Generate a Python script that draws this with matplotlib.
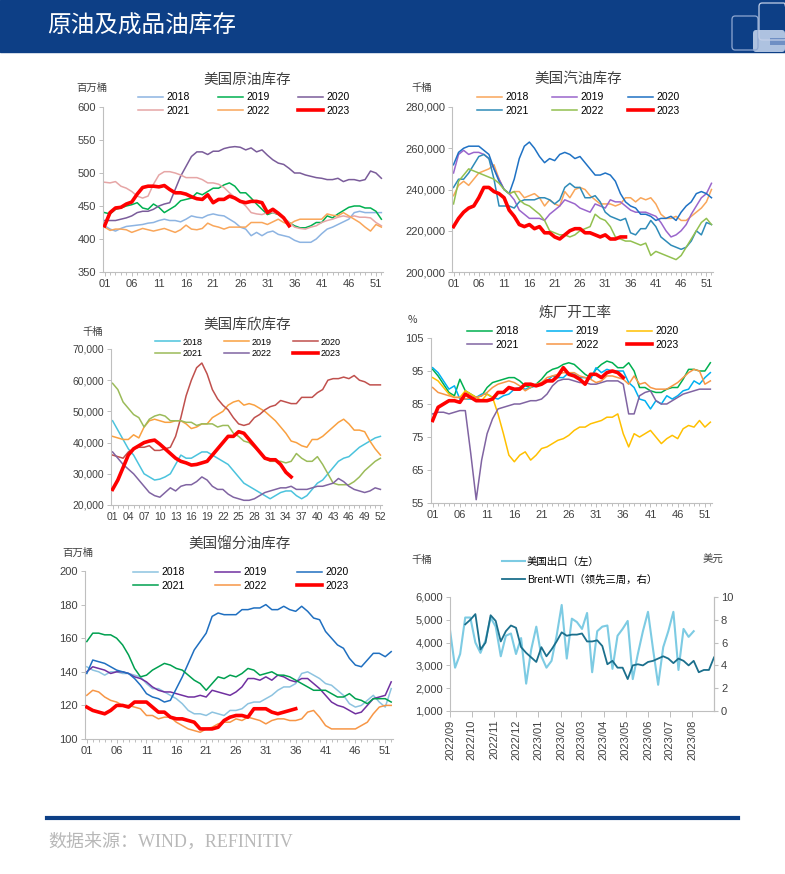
import numpy as np
import pandas as pd
import matplotlib
matplotlib.use("Agg")
import matplotlib.pyplot as plt
import matplotlib.dates as mdates
from matplotlib.ticker import FuncFormatter
from matplotlib.patches import Rectangle, FancyBboxPatch

plt.rcParams['font.family'] = ['Liberation Sans', 'Noto Sans CJK SC', 'DejaVu Sans']

W, H = 785, 874
NAVY = '#0D3F86'
TXT = '#404040'
years = ['2018', '2019', '2020', '2021', '2022', '2023']

# ---- 美国原油库存 (百万桶) ----
crude_2018 = [420, 415, 412, 416, 419, 420, 421, 422, 424, 425, 428, 430, 428, 428, 426, 430, 435, 433, 432, 436,
              438, 436, 435, 430, 425, 418, 415, 405, 410, 405, 410, 412, 407, 405, 403, 398, 395, 395, 395, 400,
              408, 415, 418, 422, 426, 430, 440, 442, 440, 440, 440, 440]
crude_2019 = [440, 438, 445, 447, 450, 452, 455, 447, 445, 453, 448, 440, 445, 450, 458, 460, 462, 470, 467, 472,
              477, 477, 482, 485, 480, 470, 470, 462, 453, 445, 437, 440, 437, 432, 425, 420, 417, 417, 420, 425,
              425, 435, 432, 438, 443, 448, 450, 450, 447, 447, 442, 430]
crude_2020 = [428, 428, 428, 430, 432, 435, 440, 442, 442, 445, 450, 453, 455, 475, 495, 510, 525, 532, 532, 528,
              533, 533, 537, 539, 540, 539, 535, 538, 532, 535, 527, 520, 515, 513, 507, 500, 500, 497, 495, 493,
              492, 490, 490, 492, 487, 490, 490, 488, 490, 503, 500, 492]
crude_2021 = [486, 485, 487, 480, 477, 472, 465, 462, 465, 483, 497, 502, 502, 500, 497, 493, 493, 493, 490, 485,
              485, 483, 478, 470, 463, 457, 450, 440, 438, 437, 440, 440, 438, 432, 425, 418, 416, 415, 418, 420,
              425, 428, 430, 433, 435, 433, 435, 433, 433, 432, 425, 420]
crude_2022 = [418, 413, 415, 415, 414, 410, 413, 416, 414, 412, 414, 416, 413, 410, 414, 421, 415, 414, 416, 424,
              420, 418, 415, 418, 418, 418, 418, 425, 425, 425, 422, 426, 430, 425, 422, 427, 430, 430, 430, 430,
              430, 438, 436, 435, 440, 435, 430, 425, 418, 412, 422, 418]
crude_2023 = [420, 440, 447, 448, 453, 456, 468, 478, 480, 480, 479, 481, 475, 470, 470, 468, 464, 461, 460, 467,
              455, 460, 460, 465, 462, 457, 455, 457, 457, 455, 440, 445, 439, 432, 420]

# ---- 美国汽油库存 (千桶) ----
gas_2018 = [237, 242, 244, 242, 245, 248, 249, 250, 252, 245, 240, 238, 239, 239, 236, 237, 238, 236, 232, 235,
            233, 232, 239, 236, 240, 241, 240, 237, 235, 233, 233, 233, 232, 233, 236, 236, 234, 236, 235, 236,
            233, 228, 226, 226, 227, 225, 225, 227, 229, 231, 234, 240]
gas_2019 = [248, 257, 259, 257, 258, 258, 257, 255, 250, 245, 240, 238, 235, 230, 228, 226, 226, 226, 225, 228,
            230, 232, 235, 234, 233, 231, 230, 229, 233, 232, 231, 235, 234, 234, 232, 230, 229, 229, 229, 228,
            227, 224, 220, 217, 218, 220, 223, 228, 232, 236, 238, 243]
gas_2020 = [252, 258, 260, 261, 261, 261, 259, 257, 250, 244, 240, 238, 245, 255, 261, 263, 260, 256, 253, 255,
            254, 257, 258, 257, 255, 256, 253, 250, 247, 247, 248, 247, 244, 238, 234, 232, 231, 228, 228, 227,
            225, 226, 226, 227, 225, 229, 232, 234, 238, 239, 238, 236]
gas_2021 = [241, 245, 245, 248, 252, 256, 257, 255, 245, 232, 232, 232, 231, 234, 235, 235, 235, 236, 236, 235,
            233, 235, 241, 243, 241, 241, 236, 236, 237, 234, 229, 227, 226, 225, 226, 219, 218, 221, 221, 225,
            222, 217, 215, 213, 212, 211, 212, 215, 220, 218, 224, 223]
gas_2022 = [233, 244, 247, 250, 249, 248, 247, 246, 245, 243, 240, 238, 239, 235, 233, 232, 230, 228, 225, 220,
            219, 218, 218, 217, 218, 220, 221, 222, 228, 226, 225, 222, 217, 216, 215, 215, 214, 213, 214, 208,
            210, 209, 208, 207, 206, 208, 212, 216, 220, 224, 226, 223]
gas_2023 = [222, 226, 229, 231, 232, 236, 241, 241, 239, 238, 236, 230, 227, 223, 222, 223, 221, 222, 219, 219,
            217, 216, 218, 220, 221, 221, 219, 219, 218, 217, 218, 216, 216, 217, 217]

# ---- 美国库欣库存 (千桶) ----
cush_2018 = [47, 44, 41, 38, 36, 33, 30, 29, 28, 28.3, 29, 30, 33, 36, 35, 35, 36, 37, 37, 36,
             35, 34, 33, 31, 29, 27, 26, 25, 24, 23, 22, 23, 24, 24.5, 24.5, 23, 22, 23, 25, 27,
             28, 30, 32, 34, 35, 35.5, 37, 38.5, 39.5, 40.5, 41.5, 42]
cush_2019 = [42, 41.5, 41, 41, 42.5, 41.5, 45, 47, 47.5, 47, 46.5, 46.5, 47, 47, 46, 44.5, 45, 46, 46, 48,
             49, 50, 52, 53, 53.5, 52, 52.5, 52, 51, 50, 48.5, 47, 45, 43, 40.5, 40, 39, 38.5, 41, 41,
             42, 43.5, 45, 46.5, 47.5, 46, 44, 44, 43.5, 40.5, 38, 36]
cush_2020 = [36, 35.5, 35, 37, 38, 38.5, 38.5, 39, 37.5, 37.5, 38, 38.5, 42, 48, 55, 60, 64, 65.5, 62, 57,
             54, 52, 50.5, 48, 46, 45.5, 46, 48, 49, 50.5, 51.5, 52, 53.5, 53, 52.5, 52.5, 54.5, 54.5, 54.5, 56,
             57, 60, 60.5, 60.5, 61, 60.5, 61.5, 60, 59.5, 58.5, 58.5, 58.5]
cush_2021 = [59, 57, 53, 51, 49, 48, 45, 47.5, 48.5, 49, 48.5, 47, 47, 47, 46.5, 46.5, 45.5, 46, 46, 46,
             45, 45.5, 45.5, 43, 42, 40.5, 40, 38.5, 37, 35, 34, 34, 34, 33.5, 34, 36.5, 35, 34, 34, 35.5,
             33, 30, 27, 26.5, 26.5, 26.5, 27.5, 29, 31, 32.5, 34, 35]
cush_2022 = [37, 35, 33, 31.5, 30, 28, 26, 24, 23, 22.5, 24, 25.5, 24.5, 26, 26.5, 26.5, 27.5, 29, 28, 26,
             25, 25, 23.5, 22.5, 22, 21.5, 21.5, 22, 23, 24, 24.5, 25, 25.5, 25.5, 26, 25, 25, 25, 25.5, 26,
             26, 26.5, 27, 28.5, 27.5, 26, 25, 24.5, 24, 24.5, 25.5, 25]
cush_2023 = [25, 28, 32, 36, 38, 39, 40, 40.5, 40.8, 39.5, 38, 36.5, 35, 34, 33.5, 32.8, 33, 33.5, 34, 36,
             38, 40, 42, 42, 43.5, 43, 41, 39, 37, 35, 34.5, 34.5, 33, 30.5, 29]

# ---- 炼厂开工率 (%) ----
util_2018 = [95.5, 93.5, 91, 88.5, 87.5, 92.5, 89, 88, 87, 87.5, 90, 91.5, 92, 92.5, 93, 93, 92, 90.5, 90, 91,
             92.5, 94.5, 95.5, 96, 97, 97.5, 97, 95.5, 94, 93, 95.5, 97, 98, 97.5, 96, 96, 97.5, 95, 90, 90,
             89, 88.5, 88.5, 89.5, 90, 90, 92.5, 95.5, 95.5, 95, 95, 97.5]
util_2019 = [96, 94.5, 92, 89.5, 90.5, 86.5, 86.5, 86.5, 87, 88, 88, 87, 86.5, 87.5, 88, 89.5, 90, 89.5, 90, 90.5,
             91, 92, 93.5, 93, 93, 94.5, 94, 93, 93, 92.5, 96, 94.5, 95.5, 95, 95, 95, 91.5, 90, 86.5, 86,
             83.5, 86, 85, 87.5, 86.5, 87.5, 89, 89.5, 92, 91, 93, 94.5]
util_2020 = [93, 92, 90, 88, 87, 87, 89, 88, 87, 86, 88, 87, 82, 76, 69.5, 67.5, 69.5, 70.5, 68, 69.5,
             71.5, 72, 73, 74, 74.5, 75.5, 77, 78, 78, 79, 79.5, 80, 81, 81, 82, 76, 72, 76, 75, 76,
             77, 75, 73, 74.5, 75.5, 74.5, 77.5, 78.5, 78, 80, 78, 79.5]
util_2021 = [82, 82.5, 82.5, 82, 82.5, 83, 83, 70, 56, 68, 76, 80.5, 83.5, 84, 84.5, 85, 85, 85.5, 86, 86,
             86.5, 88, 90.5, 92, 92.5, 92.5, 92, 91.5, 91.5, 91, 91, 91.5, 92, 92, 92, 91, 82, 82, 87.5, 88.5,
             89, 86, 85, 85, 86, 87, 88, 88.5, 89, 89.5, 89.5, 89.5]
util_2022 = [90, 88.5, 88, 87.5, 87, 87, 86.5, 87, 87, 87.5, 88.5, 90, 91, 91.5, 92, 91.5, 90.5, 89, 90, 91,
             91.5, 93, 93.5, 94, 94.5, 94.5, 94.5, 93.5, 93, 92.5, 91.5, 92, 93.5, 93.5, 93, 92.5, 91, 93.5, 91, 91.5,
             90, 89.5, 89.5, 89.5, 90.5, 91.5, 93, 94.5, 95.5, 95, 91, 92]
util_2023 = [80, 84, 85, 86, 86, 85.5, 88, 87, 86, 86, 86, 86.5, 88.5, 88.5, 90, 89.5, 89.5, 91, 91, 90.5,
             91, 92, 92, 93.5, 96, 94, 93.5, 92.5, 91, 94, 94, 93, 94.5, 95, 94.5, 93]

# ---- 美国馏分油库存 (百万桶) ----
dist_2018 = [143, 141, 140, 138, 140, 140, 139, 139, 138, 137, 133, 130, 130, 128, 126, 124, 121, 117, 115, 115,
             114, 116, 115, 114, 117, 117, 118, 121, 122, 122, 124, 126, 129, 131, 131, 133, 139, 140, 138, 136,
             133, 132, 129, 126, 121, 119, 120, 123, 126, 122, 119, 130]
dist_2019 = [140, 143, 142, 141, 139, 140, 140, 139, 137, 136, 134, 131, 129, 128, 128, 127, 126, 125, 125, 126,
             125, 129, 128, 127, 126, 128, 131, 136, 136, 135, 137, 135, 138, 137, 135, 134, 136, 136, 133, 130,
             126, 122, 120, 119, 117, 115, 116, 120, 124, 125, 126, 134]
dist_2020 = [139, 147, 146, 145, 143, 141, 140, 139, 136, 132, 127, 125, 124, 122, 123, 130, 137, 145, 153, 158,
             163, 173, 175, 174, 174, 174, 177, 177, 178, 178, 180, 177, 177, 179, 177, 176, 179, 176, 172, 171,
             164, 160, 156, 154, 148, 144, 143, 147, 151, 151, 149, 152]
dist_2021 = [158, 163, 163, 162, 162, 160, 156, 150, 142, 137, 138, 141, 143, 145, 144, 142, 141, 138, 135, 133,
             129, 133, 137, 136, 138, 137, 139, 142, 141, 138, 139, 140, 138, 138, 137, 135, 133, 131, 129, 129,
             129, 127, 125, 125, 127, 124, 123, 121, 124, 124, 124, 122]
dist_2022 = [126, 129, 128, 125, 123, 122, 120, 120, 119, 118, 114, 114, 112, 113, 113, 110, 108, 106, 105, 104,
             106, 107, 109, 110, 110, 112, 111, 113, 112, 111, 109, 111, 112, 112, 111, 111, 112, 116, 117, 113,
             108, 106, 106, 106, 106, 106, 108, 110, 115, 119, 120, 120]
dist_2023 = [119, 117, 116, 115, 117, 120, 120, 119, 122, 122, 122, 119, 116, 116, 113, 112, 112, 111, 110, 106,
             106, 106, 107, 111, 113, 114, 114, 113, 118, 118, 118, 116, 115, 116, 117, 118]

# ---- 美国出口 (千桶, 左) & Brent-WTI (美元, 右, 领先三周) ----
exports = [4550, 2900, 3500, 5100, 5100, 4000, 3550, 4100, 5100, 4700, 3400, 4300, 4400, 3500, 4200, 2200, 3700,
           4700, 3400, 2900, 3200, 4300, 5650, 3300, 5050, 4900, 4600, 5300, 2700, 4500, 4700, 4750, 2850, 4300,
           4600, 4950, 2400, 3500, 4500, 5350, 3700, 2150, 3800, 4500, 5350, 2800, 4600, 4250, 4500]
spread = [7.6, 8.0, 8.5, 5.4, 6.0, 8.4, 7.9, 6.1, 7.0, 7.5, 7.3, 5.6, 5.1, 4.7, 4.3, 5.6, 4.8, 5.4, 6.1, 6.9,
          6.6, 6.7, 6.7, 6.8, 6.1, 6.1, 6.2, 5.7, 4.1, 4.4, 3.8, 3.8, 2.8, 4.0, 4.1, 4.0, 4.3, 4.4, 4.6, 4.8,
          4.6, 4.2, 4.6, 4.4, 4.0, 4.4, 3.4, 3.6, 3.6, 4.7]
exports_start = '2022-09-01'
spread_start = '2022-09-22'


def fx(px):
    return px / W


def fy(py):
    return 1 - py / H


def add_axes(fig, left, top, right, bottom):
    return fig.add_axes([fx(left), fy(bottom), (right - left) / W, (bottom - top) / H])


def style_axes(ax, labelsize=8):
    for s in ['top', 'right']:
        ax.spines[s].set_visible(False)
    for s in ['left', 'bottom']:
        ax.spines[s].set_color('#BFBFBF')
        ax.spines[s].set_linewidth(0.8)
    ax.tick_params(which='both', direction='out', color='#BFBFBF', labelcolor=TXT,
                   labelsize=labelsize, length=3, width=0.7, pad=2)
    ax.tick_params(which='minor', length=2)


def year_panel(fig, box, series, colors, ylim, ystep, xt, title, title_xy, unit, unit_xy,
               leg_xy, comma=False, labelsize=8, legsize=7.5, colspace=2.75, handlelen=2.4):
    ax = add_axes(fig, *box)
    style_axes(ax, labelsize)
    handles = []
    for yr, vals, c in zip(years, series, colors):
        w = np.arange(1, len(vals) + 1)
        lw = 2.6 if yr == '2023' else 1.1
        h, = ax.plot(w, vals, color=c, lw=lw, label=yr, zorder=3 if yr == '2023' else 2)
        handles.append(h)
    ax.set_xlim(0.7, 52.3)
    ax.set_ylim(*ylim)
    ax.set_yticks(np.arange(ylim[0], ylim[1] + ystep / 2, ystep))
    if comma:
        ax.yaxis.set_major_formatter(FuncFormatter(lambda v, p: f'{int(v * 1000):,}'))
    ax.set_xticks(xt)
    ax.set_xticklabels([f'{t:02d}' for t in xt])
    ax.set_xticks(np.arange(1, 53), minor=True)
    order = [0, 3, 1, 4, 2, 5]
    ax.legend([handles[i] for i in order], [years[i] for i in order], ncol=3, frameon=False,
              loc='center left', bbox_to_anchor=(fx(leg_xy[0]), fy(leg_xy[1])), bbox_transform=fig.transFigure,
              fontsize=legsize, handlelength=handlelen, columnspacing=colspace, handletextpad=0.3,
              labelspacing=0.3, borderpad=0, borderaxespad=0)
    fig.text(fx(title_xy[0]), fy(title_xy[1]), title, ha='center', va='center',
             fontsize=10.5, color=TXT, family=['Noto Sans CJK SC'])
    fig.text(fx(unit_xy[0]), fy(unit_xy[1]), unit, ha='center', va='center',
             fontsize=7.5, color=TXT, family=['Noto Sans CJK SC', 'DejaVu Sans'])
    return ax


fig = plt.figure(figsize=(W / 100, H / 100), dpi=100)
fig.patch.set_facecolor('white')

# header band with logo
fig.patches.append(Rectangle((0, fy(52)), 1, 52 / H, transform=fig.transFigure, color=NAVY, zorder=0))
fig.text(fx(47), fy(25), '原油及成品油库存', color='white', fontsize=17, va='center', ha='left',
         family=['Noto Sans CJK SC'])
fig.patches.append(FancyBboxPatch((fx(753), fy(52)), 32 / W, 22 / H, transform=fig.transFigure,
                                  boxstyle='round,pad=0,rounding_size=0.004', color='#AEC2E0', lw=0))
fig.patches.append(Rectangle((fx(770), fy(45)), 15 / W, 7 / H, transform=fig.transFigure,
                             color='#6F8FC4', lw=0))
fig.patches.append(FancyBboxPatch((fx(732), fy(50)), 26 / W, 34 / H, transform=fig.transFigure,
                                  boxstyle='round,pad=0,rounding_size=0.004', fill=False, ec='#8FA8D2', lw=0.9))
fig.patches.append(FancyBboxPatch((fx(759), fy(40)), 28 / W, 37 / H, transform=fig.transFigure,
                                  boxstyle='round,pad=0,rounding_size=0.004', fill=False, ec='#C3D0E8', lw=0.9))

year_panel(fig, (103, 107, 383, 272),
           [crude_2018, crude_2019, crude_2020, crude_2021, crude_2022, crude_2023],
           ['#8DB4E2', '#00B050', '#7A5C9A', '#E6A6A6', '#F9A65A', '#FF0000'],
           (350, 600), 50, list(range(1, 52, 5)), '美国原油库存', (247, 80), '百万桶', (92, 88), (138, 104))

year_panel(fig, (452, 107, 713, 272),
           [gas_2018, gas_2019, gas_2020, gas_2021, gas_2022, gas_2023],
           ['#F9A65A', '#9A66CC', '#1F72C4', '#2E8BB8', '#92C050', '#FF0000'],
           (200, 280), 20, list(range(1, 52, 5)), '美国汽油库存', (578, 79), '千桶', (422, 88), (477, 104),
           comma=True, colspace=2.3)

year_panel(fig, (111, 349, 382, 505),
           [cush_2018, cush_2019, cush_2020, cush_2021, cush_2022, cush_2023],
           ['#4BC3DD', '#F9A040', '#C0504D', '#9BBB59', '#8064A2', '#FF0000'],
           (20, 70), 10, list(range(1, 53, 3)), '美国库欣库存', (247, 325), '千桶', (93, 332), (155, 348),
           comma=True, labelsize=7.5, legsize=6.5, colspace=2.3, handlelen=2.8)

year_panel(fig, (431, 338, 712, 503),
           [util_2018, util_2019, util_2020, util_2021, util_2022, util_2023],
           ['#00B050', '#00B0F0', '#FFC000', '#8064A2', '#F79646', '#FF0000'],
           (55, 105), 10, list(range(1, 52, 5)), '炼厂开工率', (575, 313), '%', (412, 320), (467, 338))

year_panel(fig, (85, 571, 393, 739),
           [dist_2018, dist_2019, dist_2020, dist_2021, dist_2022, dist_2023],
           ['#8DC3E0', '#7030A0', '#1F6FC0', '#00A050', '#F79646', '#FF0000'],
           (100, 200), 20, list(range(1, 52, 5)), '美国馏分油库存', (240, 544), '百万桶', (78, 553), (133, 579),
           colspace=2.95)

# exports vs Brent-WTI
ax6 = add_axes(fig, 450, 597, 714, 711)
style_axes(ax6)
ax6.spines['right'].set_visible(True)
ax6.spines['right'].set_color('#BFBFBF')
exp_dates = pd.date_range(exports_start, periods=len(exports), freq='7D')
spr_dates = pd.date_range(spread_start, periods=len(spread), freq='7D')
l1, = ax6.plot(exp_dates, exports, color='#7DCBE3', lw=1.5)
ax6.set_ylim(1000, 6000)
ax6.set_yticks(np.arange(1000, 6001, 1000))
ax6.yaxis.set_major_formatter(FuncFormatter(lambda v, p: f'{int(v):,}'))
ax6r = ax6.twinx()
for s in ['top', 'left']:
    ax6r.spines[s].set_visible(False)
ax6r.spines['right'].set_color('#BFBFBF')
ax6r.spines['bottom'].set_visible(False)
l2, = ax6r.plot(spr_dates, spread, color='#1B6F8C', lw=1.3)
ax6r.set_ylim(0, 10)
ax6r.set_yticks(np.arange(0, 11, 2))
ax6r.tick_params(direction='out', color='#BFBFBF', labelcolor=TXT, labelsize=8, length=3, pad=2)
x0 = pd.Timestamp(exports_start)
ax6.set_xlim(x0, x0 + pd.Timedelta(weeks=52))
ax6.set_xticks(pd.date_range('2022-09-01', '2023-08-01', freq='MS'))
ax6.xaxis.set_major_formatter(mdates.DateFormatter('%Y/%m'))
ax6.tick_params(axis='x', rotation=90, labelsize=8, length=4)
ax6.legend([l1, l2], ['美国出口（左）', 'Brent-WTI（领先三周，右）'], frameon=False, loc='center left',
           bbox_to_anchor=(fx(502), fy(571)), bbox_transform=fig.transFigure, fontsize=7.5,
           handlelength=2.2, handletextpad=0.2, labelspacing=0.75, borderpad=0, borderaxespad=0)
fig.text(fx(422), fy(560), '千桶', ha='center', va='center', fontsize=7.5, color=TXT,
         family=['Noto Sans CJK SC'])
fig.text(fx(713), fy(560), '美元', ha='center', va='center', fontsize=7.5, color=TXT,
         family=['Noto Sans CJK SC'])

# footer
fig.add_artist(plt.Line2D([fx(47), fx(738)], [fy(818), fy(818)], transform=fig.transFigure,
                          color=NAVY, lw=3))
fig.text(fx(48), fy(842), '数据来源：WIND，REFINITIV', ha='left', va='center', fontsize=13,
         color='#B8B8B8', family=['Liberation Serif', 'Noto Sans CJK SC'])

fig.savefig('out.png', dpi=100)
